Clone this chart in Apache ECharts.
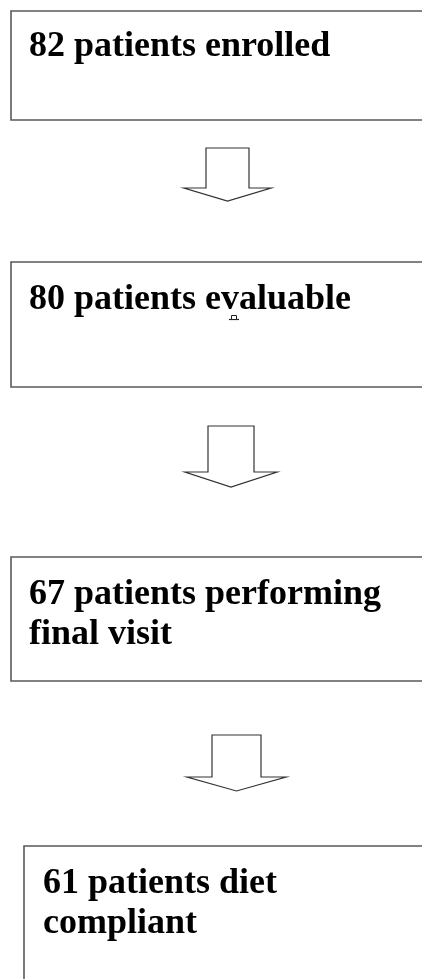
<!DOCTYPE html>
<html>
<head>
<meta charset="utf-8">
<script src="https://cdn.jsdelivr.net/npm/echarts@6/dist/echarts.min.js"></script>
<style>
html,body{margin:0;padding:0;background:#fff;}
#chart{width:422px;height:979px;}
</style>
</head>
<body>
<div id="chart"></div>
<script>
// Flowchart data
const counts = [82, 80, 67, 61];
const stageLabels = ['patients enrolled', 'patients evaluable', 'patients performing\nfinal visit', 'patients diet\ncompliant'];

// Layout (positions in px); ty = vertical middle of the first text line
const LINE_H = 40;
const boxLayout = [
  {x: 11, y: 11, h: 109, tx: 29, ty: 47},
  {x: 11, y: 262, h: 125, tx: 29, ty: 300},
  {x: 11, y: 557, h: 124, tx: 29, ty: 595},
  {x: 24, y: 846, h: 200, tx: 43, ty: 884}
];
const arrowLayout = [
  {sx0: 206, sx1: 249, top: 148, sh: 188, hx0: 184, hx1: 271, tip: 201},
  {sx0: 208, sx1: 254, top: 426, sh: 472, hx0: 185, hx1: 277, tip: 487},
  {sx0: 212, sx1: 261, top: 735, sh: 777, hx0: 187, hx1: 286, tip: 791}
];

const chart = echarts.init(document.getElementById('chart'), null, {renderer: 'canvas'});
const elements = [];
counts.forEach((c, i) => {
  const b = boxLayout[i];
  const txt = c + ' ' + stageLabels[i];
  const nLines = txt.split('\n').length;
  elements.push({
    type: 'rect',
    shape: {x: b.x, y: b.y, width: 600, height: b.h},
    style: {fill: '#fff', stroke: '#595959', lineWidth: 1.6}
  });
  elements.push({
    type: 'text',
    x: b.tx, y: b.ty + (nLines - 1) * LINE_H / 2,
    style: {
      text: txt,
      font: 'bold 36px "Liberation Serif", "Times New Roman", serif',
      fill: '#000',
      verticalAlign: 'middle',
      lineHeight: LINE_H
    }
  });
});
arrowLayout.forEach(a => {
  const cx = (a.hx0 + a.hx1) / 2;
  elements.push({
    type: 'polygon',
    shape: {points: [[a.sx0, a.top], [a.sx1, a.top], [a.sx1, a.sh], [a.hx1, a.sh], [cx, a.tip], [a.hx0, a.sh], [a.sx0, a.sh]]},
    style: {fill: '#fff', stroke: '#333', lineWidth: 1.2}
  });
});
// small stray mark under "evaluable"
elements.push({
  type: 'polyline',
  shape: {points: [[229, 319.5], [239, 319.5]]},
  style: {stroke: '#222', lineWidth: 1.2, fill: null}
});
elements.push({
  type: 'rect',
  shape: {x: 231.5, y: 315.5, width: 5, height: 4},
  style: {fill: '#fff', stroke: '#222', lineWidth: 1}
});

chart.setOption({
  backgroundColor: '#fff',
  animation: false,
  graphic: {elements: elements}
});
</script>
</body>
</html>
